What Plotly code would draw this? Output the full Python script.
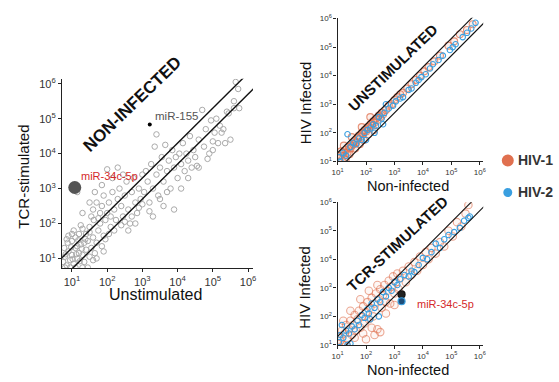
import plotly.graph_objects as go

# ---------------- DATA (log10 values) ----------------
# Left panel: non-infected cells, unstimulated (x) vs TCR-stimulated (y)
left_x = [0.75,0.8,0.85,0.9,0.95,1.0,1.05,1.1,1.15,1.2,0.78,0.88,1.0,1.1,1.25,1.3,1.35,1.4,1.45,1.5,
          0.8,0.95,1.1,1.3,1.45,1.2,1.3,1.05,0.9,1.4,1.5,1.55,1.6,1.65,1.7,1.75,1.8,1.85,1.9,1.95,
          0.98,1.18,1.28,1.38,1.02,0.82,1.12,1.22,1.6,1.7,
          1.0,0.85,1.15,1.35,1.5,1.25,1.62,1.8,2.1,1.9,
          1.55,1.6,1.7,1.75,1.85,1.9,2.0,2.05,2.1,2.15,2.2,2.25,2.3,2.35,2.4,2.45,2.5,2.55,2.6,2.65,
          2.7,2.75,2.8,2.85,2.9,2.95,3.0,1.95,2.05,2.2,2.4,2.5,2.6,2.8,1.3,1.5,1.15,2.15,1.85,2.0,
          2.3,1.65,2.45,2.7,2.9,
          3.05,3.1,3.15,3.2,3.25,3.3,3.35,3.4,3.45,3.5,3.55,3.6,3.65,3.7,3.75,3.8,3.85,3.9,3.95,4.0,
          4.05,4.1,4.15,4.2,4.25,4.3,4.35,4.4,4.45,4.5,3.6,3.9,3.3,4.1,3.0,3.4,4.55,
          3.2,3.5,3.7,4.3,4.6,5.0,
          4.6,4.7,4.75,4.8,4.9,4.95,5.0,5.05,5.1,5.15,5.2,5.25,5.3,5.35,5.4,5.45,5.5,5.6,5.65,5.72,
          5.75,5.6,4.85]
left_y = [0.9,1.05,0.8,1.2,0.95,1.1,0.85,1.3,1.0,1.15,1.3,1.45,1.5,1.6,1.4,1.1,0.9,1.25,1.5,1.05,
          0.74,0.74,0.74,0.74,0.74,1.7,1.85,1.8,1.65,1.7,1.9,1.3,1.6,1.15,1.45,1.8,2.0,1.35,1.65,2.1,
          1.32,1.52,1.28,1.55,0.98,1.12,1.12,0.92,0.95,1.0,
          1.7,1.55,1.35,1.45,1.75,1.95,2.1,2.3,2.2,1.2,
          2.2,2.4,2.6,2.15,2.5,2.8,2.3,2.6,1.9,2.9,2.4,2.1,2.7,3.0,2.5,2.2,2.8,3.2,2.4,2.0,
          2.9,3.3,2.6,2.3,3.0,2.7,3.4,1.55,1.7,1.8,1.95,2.05,1.8,2.0,2.3,2.6,2.9,3.3,3.1,3.55,
          3.6,2.9,3.4,2.2,2.45,
          2.9,3.5,3.2,2.6,3.7,3.0,4.2,3.4,2.8,3.6,3.9,3.2,4.25,3.5,3.8,3.0,4.1,3.6,3.9,3.3,
          4.0,3.7,4.3,3.5,4.0,3.8,4.5,3.6,4.1,3.9,2.5,2.4,2.2,3.0,2.55,4.55,3.65,
          2.35,2.7,2.9,3.3,3.6,4.1,
          4.4,5.25,4.2,4.7,4.0,4.95,4.35,4.6,5.0,4.3,4.8,4.6,4.7,4.3,5.2,5.15,4.4,5.5,6.05,5.85,
          5.3,5.3,3.85]

# Highlighted miRNAs (left panel)
mir34_left = (1.08, 3.03)
mir155_left = (3.21, 4.83)

# Top-right panel: unstimulated, non-infected (x) vs HIV infected (y)
top_hiv1_x = [1.05,1.1,1.15,1.2,1.25,1.3,1.35,1.4,1.45,1.5,1.55,1.6,1.65,1.7,1.75,1.8,1.85,1.9,1.95,2.0,
              2.05,2.1,2.15,2.2,2.25,2.3,2.35,2.4,2.45,2.5,2.55,2.6,2.7,2.8,2.9,3.0,3.1,3.2,3.3,3.45,
              3.6,3.75,3.9,4.05,4.2,4.4,4.6,4.9,5.1,5.3,5.55,5.75,1.12,1.28,1.42,1.62,1.78,1.92,2.08,2.28,
              1.22,1.5,1.85,2.15]
top_hiv1_y = [1.1,1.2,1.05,1.3,1.2,1.4,1.3,1.5,1.45,1.55,1.6,1.7,1.65,1.8,1.9,1.85,2.0,1.95,2.1,2.05,
              2.2,2.15,2.3,2.25,2.4,2.35,2.5,2.45,2.6,2.55,2.7,2.65,2.8,2.95,3.0,3.15,3.25,3.35,3.4,3.55,
              3.7,3.85,4.0,4.15,4.3,4.5,4.7,5.05,5.2,5.45,5.6,5.8,1.35,1.05,1.25,1.45,1.6,1.75,1.95,2.1,
              1.55,1.85,2.2,2.55]
top_hiv2_x = [1.05,1.1,1.2,1.3,1.35,1.45,1.55,1.65,1.75,1.85,1.95,2.05,2.15,2.25,2.35,2.45,2.55,2.65,2.7,2.8,
              2.95,3.05,3.2,3.3,3.5,3.6,3.75,3.85,3.95,4.1,4.25,4.35,4.55,4.7,4.95,5.05,5.15,5.4,5.55,5.7,
              5.85,2.3,2.0,2.6]
top_hiv2_y = [1.15,1.0,1.3,1.2,1.95,1.5,1.65,1.6,1.8,1.75,2.0,2.1,2.15,2.3,2.25,2.55,2.5,2.7,3.0,2.85,
              2.95,3.1,3.2,3.25,3.5,3.55,3.75,3.85,3.95,4.05,4.25,4.4,4.55,4.7,4.9,5.0,5.1,5.35,5.5,5.65,
              5.85,2.0,1.75,2.3]

# Bottom-right panel: TCR-stimulated, non-infected (x) vs HIV infected (y)
bot_hiv1_x = [1.0,1.05,1.1,1.15,1.2,1.25,1.3,1.35,1.4,1.45,1.5,1.55,1.6,1.65,1.7,1.75,1.8,1.85,1.9,1.95,
              2.0,2.05,2.1,2.15,2.2,2.25,2.3,2.35,2.4,2.45,2.5,2.55,2.6,2.65,2.7,2.75,2.8,2.85,2.9,2.95,
              3.0,3.05,3.1,3.15,3.2,3.3,3.4,3.5,3.6,3.7,3.8,3.9,4.0,4.1,4.2,4.3,4.45,4.6,4.75,4.9,
              5.05,5.2,5.35,5.5,5.6,1.3,1.6,1.9,2.2,2.5,1.2,1.45,1.8,2.1,2.4,2.0,2.7,3.0,2.3]
bot_hiv1_y = [1.05,1.3,1.15,1.5,1.0,1.4,1.7,1.2,1.55,1.85,1.35,1.7,2.05,1.5,1.9,2.2,1.6,2.0,2.35,1.75,
              2.15,2.5,1.9,2.3,2.65,2.0,2.45,2.8,1.55,2.6,2.95,2.3,2.75,3.1,2.5,2.9,3.25,2.45,3.05,3.4,
              2.8,3.2,3.5,2.95,3.35,3.6,3.2,3.75,3.45,3.9,3.6,4.1,3.8,4.25,4.0,4.4,4.2,4.6,4.45,5.0,
              4.8,5.3,5.15,5.6,5.9,1.0,1.25,1.4,1.6,1.45,1.85,2.2,2.6,2.9,3.1,1.2,2.1,2.4,1.35]
bot_hiv2_x = [1.05,1.1,1.2,1.3,1.4,1.5,1.6,1.7,1.75,1.85,1.95,2.05,2.1,2.2,2.3,2.4,2.5,2.6,2.7,2.8,
              2.9,3.0,3.1,3.2,3.35,3.5,3.6,3.7,3.85,4.0,4.15,4.3,4.45,4.6,4.75,4.9,5.1,5.3,5.45,5.6,
              5.65,1.15,1.45,2.15,2.45,1.35]
bot_hiv2_y = [1.1,1.35,1.25,1.5,1.4,1.65,1.55,1.85,1.7,2.05,1.95,2.25,2.1,2.45,2.3,2.6,2.5,2.85,2.7,3.0,
              2.9,3.2,3.1,3.3,3.45,3.4,3.6,3.55,3.8,4.05,4.0,4.25,4.55,4.4,4.7,4.85,4.95,5.1,5.35,5.45,
              5.5,1.7,1.05,1.9,2.0,1.0]

# Highlighted miR-34c-5p (bottom-right panel): HIV-1 (black) and HIV-2 (dark blue)
mir34_right_x = [3.25, 3.25]
mir34_right_y = [2.77, 2.53]

# Guide lines: 2-fold above / below identity
fold_up = 2.0
fold_down = 0.5
line_x = [1.0, 1e7]

tick_vals = [10, 100, 1000, 10000, 100000, 1000000]
tick_text = ["10<sup>1</sup>", "10<sup>2</sup>", "10<sup>3</sup>", "10<sup>4</sup>",
             "10<sup>5</sup>", "10<sup>6</sup>"]

ORANGE = "#E0704F"
BLUE = "#3A9FE0"
FONT = "Liberation Sans, Arial, sans-serif"

def p(v):
    return [10 ** a for a in v]

W, H = 559, 382
def px_x(x):
    return x / W
def px_y(y):
    return 1 - y / H

fig = go.Figure()

# ---------------- Left panel ----------------
fig.add_trace(go.Scatter(x=p(left_x), y=p(left_y), mode="markers", xaxis="x", yaxis="y",
                         marker=dict(size=5.5, color="rgba(0,0,0,0)",
                                     line=dict(color="#AAAAAA", width=1)),
                         showlegend=False, cliponaxis=True))
for f in (fold_up, fold_down):
    fig.add_trace(go.Scatter(x=line_x, y=[v * f for v in line_x], mode="lines", xaxis="x", yaxis="y",
                             line=dict(color="#111111", width=1.4), showlegend=False))
fig.add_trace(go.Scatter(x=[10 ** mir34_left[0]], y=[10 ** mir34_left[1]], mode="markers",
                         xaxis="x", yaxis="y", marker=dict(size=13, color="#555555"), showlegend=False))
fig.add_trace(go.Scatter(x=[10 ** mir155_left[0]], y=[10 ** mir155_left[1]], mode="markers",
                         xaxis="x", yaxis="y", marker=dict(size=4, color="#000000"), showlegend=False))

# ---------------- Top-right panel ----------------
fig.add_trace(go.Scatter(x=p(top_hiv1_x), y=p(top_hiv1_y), mode="markers", xaxis="x2", yaxis="y2",
                         marker=dict(size=7, color="rgba(224,112,79,0.12)",
                                     line=dict(color="rgba(224,112,79,0.75)", width=1.1)),
                         showlegend=False))
fig.add_trace(go.Scatter(x=p(top_hiv2_x), y=p(top_hiv2_y), mode="markers", xaxis="x2", yaxis="y2",
                         marker=dict(size=5.5, color="rgba(0,0,0,0)",
                                     line=dict(color=BLUE, width=1.1)),
                         showlegend=False))
for f in (fold_up, fold_down):
    fig.add_trace(go.Scatter(x=line_x, y=[v * f for v in line_x], mode="lines", xaxis="x2", yaxis="y2",
                             line=dict(color="#111111", width=1.1), showlegend=False))

# ---------------- Bottom-right panel ----------------
fig.add_trace(go.Scatter(x=p(bot_hiv1_x), y=p(bot_hiv1_y), mode="markers", xaxis="x3", yaxis="y3",
                         marker=dict(size=7.5, color="rgba(224,112,79,0.06)",
                                     line=dict(color="rgba(224,112,79,0.6)", width=1.1)),
                         showlegend=False))
fig.add_trace(go.Scatter(x=p(bot_hiv2_x), y=p(bot_hiv2_y), mode="markers", xaxis="x3", yaxis="y3",
                         marker=dict(size=5.5, color="rgba(0,0,0,0)",
                                     line=dict(color=BLUE, width=1.1)),
                         showlegend=False))
for f in (fold_up, fold_down):
    fig.add_trace(go.Scatter(x=line_x, y=[v * f for v in line_x], mode="lines", xaxis="x3", yaxis="y3",
                             line=dict(color="#111111", width=1.1), showlegend=False))
fig.add_trace(go.Scatter(x=p(mir34_right_x), y=p(mir34_right_y), mode="markers", xaxis="x3", yaxis="y3",
                         marker=dict(size=7, color=["#222222", "#1D4E7A"],
                                     line=dict(color=["#111111", BLUE], width=1.2)),
                         showlegend=False))

def axis(domain, rng, size, anchor):
    return dict(type="log", domain=domain, range=rng, anchor=anchor,
                tickvals=tick_vals, ticktext=tick_text, ticks="outside", ticklen=3,
                tickwidth=1, tickcolor="#222", showline=True, linecolor="#222", linewidth=1.2,
                showgrid=False, zeroline=False, tickfont=dict(size=size, color="#333", family=FONT))

fig.update_layout(
    width=W, height=H, margin=dict(l=0, r=0, t=0, b=0),
    paper_bgcolor="white", plot_bgcolor="white", showlegend=False,
    xaxis=axis([px_x(57), px_x(251)], [0.72, 6.14], 11, "y"),
    yaxis=axis([px_y(270), px_y(75)], [0.72, 6.14], 11, "x"),
    xaxis2=axis([px_x(337), px_x(485)], [1.0, 6.12], 8, "y2"),
    yaxis2=axis([px_y(160), px_y(12)], [1.0, 6.03], 8, "x2"),
    xaxis3=axis([px_x(337), px_x(485)], [1.0, 6.12], 8, "y3"),
    yaxis3=axis([px_y(349), px_y(202)], [1.0, 6.0], 8, "x3"),
)

ann = []
def pa(x, y, text, size, color="#111", angle=0, bold=False, xanchor="center"):
    ann.append(dict(x=px_x(x), y=px_y(y), xref="paper", yref="paper", text=("<b>%s</b>" % text) if bold else text,
                    showarrow=False, textangle=angle, xanchor=xanchor, yanchor="middle",
                    font=dict(size=size, color=color, family=FONT)))

# axis titles
pa(18, 176, "TCR-stimulated", 15, angle=-90)
pa(152, 297, "Unstimulated", 16)
pa(304, 100, "HIV Infected", 15, angle=-90)
pa(409, 185, "Non-infected", 14.5)
pa(304, 290, "HIV Infected", 15, angle=-90)
pa(409, 375, "Non-infected", 14.5)
# panel titles
pa(128, 101, "NON-INFECTED", 17, angle=-44, bold=True)
pa(393, 63, "UNSTIMULATED", 15, angle=-44, bold=True)
pa(398, 245, "TCR-STIMULATED", 15, angle=-43, bold=True)
# miRNA labels
pa(74, 175, "miR-34c-5p", 11, color="#D42A2A", xanchor="left")
pa(149, 113, "miR-155", 11.5, color="#555555", xanchor="left")
pa(416, 307, "miR-34c-5p", 11, color="#D42A2A", xanchor="left")
# legend text
pa(518, 159, "HIV-1", 14, color="#333", bold=True, xanchor="left")
pa(518, 192, "HIV-2", 14, color="#333", bold=True, xanchor="left")
fig.update_layout(annotations=ann)

fig.update_layout(shapes=[
    dict(type="circle", xref="paper", yref="paper", xsizemode="pixel", ysizemode="pixel",
         xanchor=px_x(510), yanchor=px_y(159), x0=-6, x1=6, y0=-6, y1=6,
         fillcolor=ORANGE, line=dict(width=0)),
    dict(type="circle", xref="paper", yref="paper", xsizemode="pixel", ysizemode="pixel",
         xanchor=px_x(510), yanchor=px_y(192), x0=-4.5, x1=4.5, y0=-4.5, y1=4.5,
         fillcolor=BLUE, line=dict(width=0)),
])

fig.write_html("out.html")
